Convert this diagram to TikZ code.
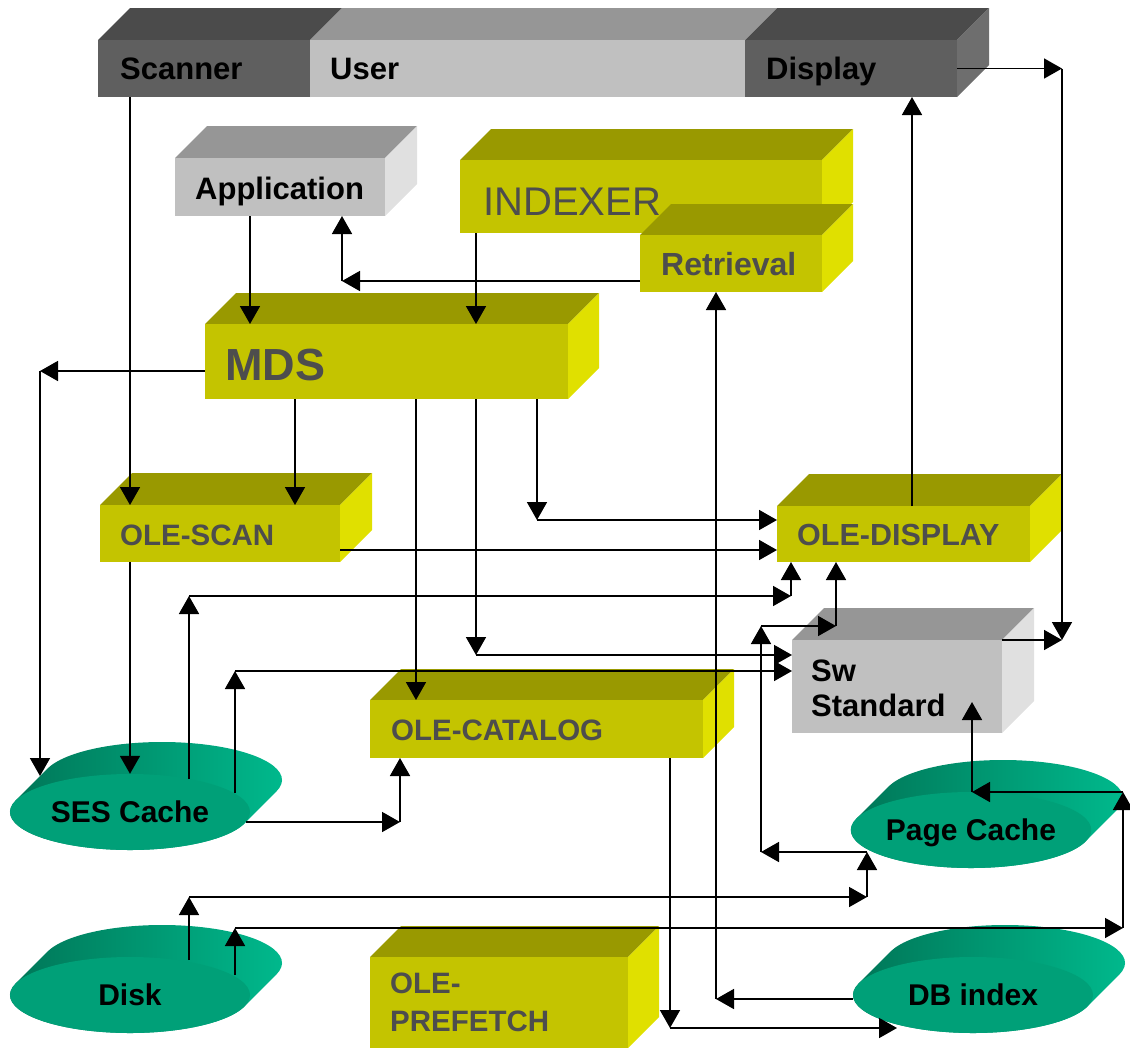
\documentclass[tikz,border=0pt]{standalone}
\usepackage{fontspec}
\setmainfont{Liberation Sans}
\usetikzlibrary{arrows.meta,shapes.geometric}

\definecolor{olvFront}{HTML}{C4C400}
\definecolor{olvTop}{HTML}{999900}
\definecolor{olvSide}{HTML}{E0E000}
\definecolor{gryFront}{HTML}{C0C0C0}
\definecolor{gryTop}{HTML}{969696}
\definecolor{grySide}{HTML}{E0E0E0}
\definecolor{drkFront}{HTML}{5F5F5F}
\definecolor{drkTop}{HTML}{4B4B4B}
\definecolor{drkSide}{HTML}{6E6E6E}
\definecolor{tealFront}{HTML}{00A078}
\definecolor{tealDark}{HTML}{007254}
\definecolor{tealMid}{HTML}{008563}
\definecolor{tealLight}{HTML}{00BC8F}
\definecolor{inkGray}{HTML}{4D4D4D}

% extruded block: #1 name, #2,#3 front top-left, #4,#5 front bottom-right,
% #6 front colour, #7 top colour, #8 side colour, #9 depth
\newcommand\slab[9]{%
  \fill[#7] (#2,#3) -- ++(#9,-#9) -- (#4+#9,#3-#9) -- (#4,#3) -- cycle;
  \fill[#8] (#4,#3) -- (#4+#9,#3-#9) -- (#4+#9,#5-#9) -- (#4,#5) -- cycle;
  \node[face, fill=#6, minimum width=#4-#2, minimum height=#5-#3] (#1) at (#2,#3) {};
}

% flat storage platter: #1 name, #2,#3 centre of the front disc, #4 label
\newcommand\platter[4]{%
  \shade[left color=tealDark, middle color=tealMid, right color=tealLight]
    (#2-114.4,#3-11.47) -- ++(32,-32)
    arc[start angle=197.57, end angle=377.57, x radius=120, y radius=38]
    -- ++(-32,32)
    arc[start angle=17.57, end angle=197.57, x radius=120, y radius=38] -- cycle;
  \node[disc] (#1) at (#2,#3) {#4};
}

\begin{document}
\begin{tikzpicture}[x=1pt,y=-1pt,
  face/.style={inner sep=0pt, outer sep=0pt, anchor=north west},
  tag/.style={inner sep=0pt, anchor=base west, font=\bfseries\fontsize{31}{36}\selectfont},
  olvtag/.style={tag, text=inkGray, font=\bfseries\fontsize{29.5}{36}\selectfont},
  disc/.style={ellipse, fill=tealFront, inner sep=0pt, minimum width=240pt,
    minimum height=76pt, font=\bfseries\fontsize{30}{36}\selectfont,
    text height=21.5pt, text depth=0pt},
  link/.style={line width=1.7pt, -{Triangle[length=18pt,width=20pt]}}]

\useasboundingbox (0,0) rectangle (1130,1050);

% ---- top bar
\slab{scanner}{98}{40}{310}{97}{drkFront}{drkTop}{drkSide}{32}
\slab{user}{310}{40}{745}{97}{gryFront}{gryTop}{grySide}{32}
\slab{display}{745}{40}{957}{97}{drkFront}{drkTop}{drkSide}{32}
\node[tag] (scanner-t) at (120,79) {Scanner};
\node[tag] (user-t) at (330,79) {User};
\node[tag] (display-t) at (766,79) {Display};

% ---- blocks
\slab{app}{175}{158}{385}{216}{gryFront}{gryTop}{grySide}{32}
\node[tag] (app-t) at (195,199) {Application};

\slab{indexer}{460}{160}{822}{233}{olvFront}{olvTop}{olvSide}{31}
\node[tag, font=\fontsize{40}{48}\selectfont, text=inkGray] (indexer-t) at (483,215) {INDEXER};
\slab{retrieval}{640}{235}{822}{292}{olvFront}{olvTop}{olvSide}{31}
\node[olvtag, font=\bfseries\fontsize{32}{38}\selectfont] (retrieval-t) at (661,275) {Retrieval};

\slab{mds}{205}{324}{568}{399}{olvFront}{olvTop}{olvSide}{31}
\node[olvtag, font=\bfseries\fontsize{45}{54}\selectfont] (mds-t) at (225,380) {MDS};

\slab{olescan}{100}{505}{340}{562}{olvFront}{olvTop}{olvSide}{32}
\node[olvtag] (olescan-t) at (120,545) {OLE-SCAN};

\slab{oledisplay}{777}{506}{1030}{562}{olvFront}{olvTop}{olvSide}{32}
\node[olvtag, font=\bfseries\fontsize{30.5}{36}\selectfont] (oledisplay-t) at (797,545) {OLE-DISPLAY};

\slab{sw}{792}{640}{1002}{733}{gryFront}{gryTop}{grySide}{32}
\node[tag] (sw-t1) at (811,681) {Sw};
\node[tag] (sw-t2) at (811,716) {Standard};

\slab{olecatalog}{370}{700}{703}{758}{olvFront}{olvTop}{olvSide}{31}
\node[olvtag] (olecatalog-t) at (391,740) {OLE-CATALOG};

\slab{oleprefetch}{370}{957}{628}{1048}{olvFront}{olvTop}{olvSide}{31}
\node[olvtag] (oleprefetch-t1) at (390,993) {OLE-};
\node[olvtag] (oleprefetch-t2) at (390,1031) {PREFETCH};

% ---- storage
\platter{ses}{130}{812}{SES Cache}
\platter{pagecache}{971}{830}{Page Cache}
\platter{disk}{130}{995}{Disk}
\platter{dbindex}{973}{995}{DB index}

% ---- connectors
% display to the right rail and down to Sw Standard
\coordinate (railTop) at (display.east -| 1062,0);
\coordinate (railSw) at (sw.north east -| 1062,0);
\draw[link] (display.east) -- (railTop);
\draw[link] (railTop) -- (railSw);
\draw[link] (sw.north east) -- (railSw);

\draw[link] (scanner.south -| 130,0) -- (olescan.north -| 130,0);
\draw[link] (app.south -| 250,0) -- (mds.north -| 250,0);
\draw[link] (indexer.south -| 476,0) -- (mds.north -| 476,0);

% retrieval back to the application
\coordinate (retBend) at (342,281);
\draw[link] (retrieval.west |- retBend) -- (retBend);
\draw[link] (retBend) -- (app.south -| retBend);

% MDS fan-out
\coordinate (mdsBend) at (40,371);
\coordinate (sesNW) at (40,776);
\draw[link] (mds.west |- mdsBend) -- (mdsBend);
\draw[link] (mdsBend) -- (sesNW);
\draw[link] (mds.south -| 295,0) -- (olescan.north -| 295,0);
\draw[link] (mds.south -| 416,0) -- (olecatalog.north -| 416,0);
\coordinate (swBendA) at (476,655);
\draw[link] (mds.south -| swBendA) -- (swBendA);
\draw[link] (swBendA) -- (sw.west |- swBendA);
\coordinate (dispBendA) at (537,520);
\draw[link] (mds.south -| dispBendA) -- (dispBendA);
\draw[link] (dispBendA) -- (oledisplay.west |- dispBendA);

\draw[link] (olescan.east |- 0,550) -- (oledisplay.west |- 0,550);
\draw[link] (oledisplay.north -| 912,0) -- (display.south -| 912,0);
\draw[link] (olescan.south -| ses.north) -- (ses.north);

% SES cache outputs
\coordinate (sesOutA) at (189,779);
\coordinate (scanRail) at (189,596);
\coordinate (dispBendB) at (791,596);
\draw[link] (sesOutA) -- (scanRail);
\draw[link] (scanRail) -- (dispBendB);
\draw[link] (dispBendB) -- (oledisplay.south -| dispBendB);
\coordinate (sesOutB) at (235,793);
\coordinate (swBendB) at (235,671);
\draw[link] (sesOutB) -- (swBendB);
\draw[link] (swBendB) -- (sw.west |- swBendB);
\coordinate (sesOutC) at (246,822);
\coordinate (catBend) at (400,822);
\draw[link] (sesOutC) -- (catBend);
\draw[link] (catBend) -- (olecatalog.south -| catBend);

% page cache up to Sw Standard and OLE-DISPLAY
\coordinate (swTop) at (836,626);
\coordinate (pcRailTop) at (761,626);
\coordinate (pcRailLow) at (761,852);
\coordinate (pcIn) at (867,852);
\draw[link] (swTop) -- (oledisplay.south -| swTop);
\draw[link] (pcIn) -- (pcRailLow);
\draw[link] (pcRailLow) -- (pcRailTop);
\draw[link] (pcRailTop) -- (swTop);

% disk to page cache
\coordinate (diskOutA) at (189,960);
\coordinate (diskRailA) at (189,897);
\coordinate (pcBend) at (867,897);
\draw[link] (diskOutA) -- (diskRailA);
\draw[link] (diskRailA) -- (pcBend);
\draw[link] (pcBend) -- (pcIn);

% disk round the right rail to Sw Standard
\coordinate (diskOutB) at (235,975);
\coordinate (diskRailB) at (235,928);
\coordinate (rightRailLow) at (1123,928);
\coordinate (rightRailUp) at (1123,792);
\coordinate (pcHub) at (972,792);
\coordinate (swIn) at (972,702);
\draw[link] (diskOutB) -- (diskRailB);
\draw[link] (diskRailB) -- (rightRailLow);
\draw[link] (rightRailLow) -- (rightRailUp);
\draw[link] (rightRailUp) -- (pcHub);
\draw[link] (pcHub) -- (swIn);

% catalogue to DB index
\coordinate (catDrop) at (670,1028);
\coordinate (dbIn) at (897,1028);
\draw[link] (olecatalog.south -| catDrop) -- (catDrop);
\draw[link] (catDrop) -- (dbIn);

% DB index back to retrieval
\coordinate (retRail) at (716,999);
\draw[link] (dbindex.west |- retRail) -- (retRail);
\draw[link] (retRail) -- (retrieval.south -| retRail);

\end{tikzpicture}
\end{document}
